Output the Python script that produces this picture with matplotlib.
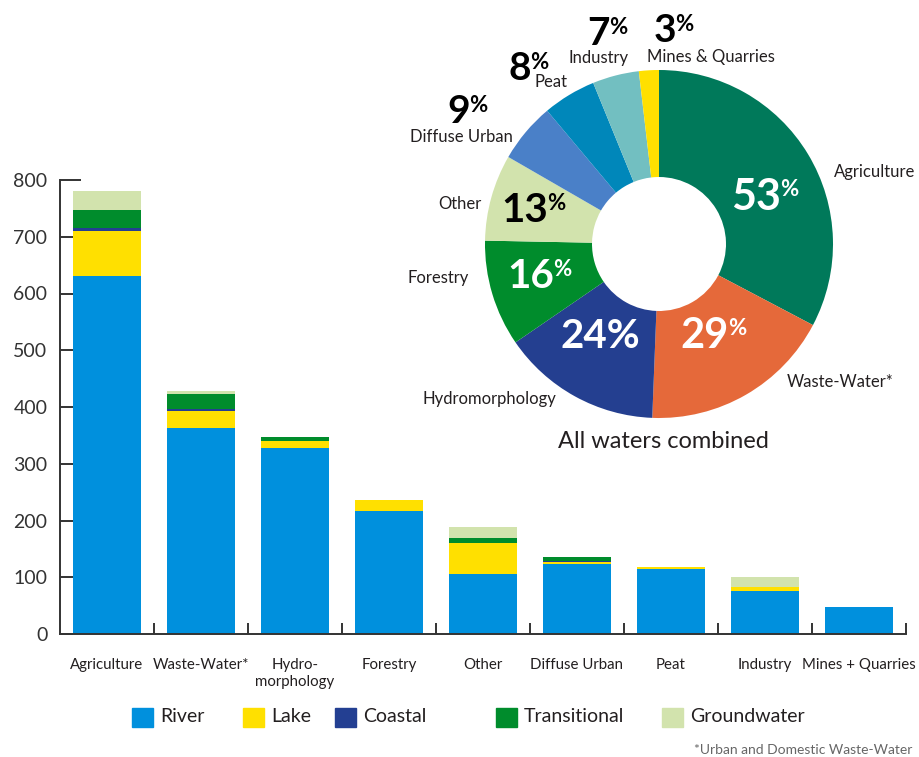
import matplotlib
matplotlib.use('Agg')
import matplotlib.pyplot as plt
from matplotlib.patches import Rectangle
import numpy as np

plt.rcParams['font.family'] = ['Lato', 'DejaVu Sans']

# Bar chart data (number of water bodies affected, by water category)
categories = ['Agriculture', 'Waste-Water*', 'Hydro-\nmorphology', 'Forestry', 'Other',
              'Diffuse Urban', 'Peat', 'Industry', 'Mines + Quarries']
river = [630, 363, 327, 216, 106, 124, 115, 76, 47]
lake = [80, 30, 13, 20, 54, 3, 3, 6, 0]
coastal = [5, 3, 0, 0, 0, 1, 0, 0, 0]
transitional = [33, 27, 7, 0, 9, 8, 0, 0, 0]
groundwater = [33, 6, 0, 0, 20, 0, 0, 18, 0]
series_names = ['River', 'Lake', 'Coastal', 'Transitional', 'Groundwater']
series_colors = ['#0090dd', '#ffe000', '#233f92', '#008c2c', '#d2e3ad']

# Donut data (all waters combined)
pie_labels = ['Agriculture', 'Waste-Water*', 'Hydromorphology', 'Forestry', 'Other',
              'Diffuse Urban', 'Peat', 'Industry', 'Mines & Quarries']
pie_pct = [53, 29, 24, 16, 13, 9, 8, 7, 3]
pie_colors = ['#00795a', '#e5693a', '#243f90', '#008c2c', '#d2e3ad',
              '#4a80c8', '#0087ba', '#72bfc1', '#ffe000']

TXT = '#231f20'
W, H = 920, 757

fig = plt.figure(figsize=(W / 100, H / 100), dpi=100)

# ---- stacked bars ----
ax = fig.add_axes([60 / W, 1 - 634 / H, 846 / W, (634 - 180) / H])
x = np.arange(len(categories))
bottom = np.zeros(len(categories))
for vals, name, col in zip([river, lake, coastal, transitional, groundwater],
                           series_names, series_colors):
    ax.bar(x, vals, width=0.72, bottom=bottom, color=col, linewidth=0, label=name)
    bottom += np.array(vals)

ax.set_xlim(-0.5, len(categories) - 0.5)
ax.set_ylim(0, 800)
for s in ['top', 'right']:
    ax.spines[s].set_visible(False)
for s in ['left', 'bottom']:
    ax.spines[s].set_color('#333333')
    ax.spines[s].set_linewidth(1.4)

ax.set_yticks(range(0, 800, 100))
ax.set_yticks([800], labels=['800'], minor=True)
ax.tick_params(axis='y', which='major', direction='in', length=9, width=1.4,
               color='#333333', labelsize=14, labelcolor='#333333', pad=9)
ax.tick_params(axis='y', which='minor', direction='in', length=15, width=1.4,
               color='#333333', labelsize=14, labelcolor='#333333', pad=9)

ax.set_xticks(x + 0.5, labels=[''] * len(categories))
ax.set_xticks(x, labels=categories, minor=True)
ax.tick_params(axis='x', which='major', direction='in', length=8, width=1.4, color='#333333')
ax.tick_params(axis='x', which='minor', length=0, pad=17, labelsize=10.8, labelcolor=TXT)
for t in ax.get_xticklabels(minor=True):
    t.set_linespacing(1.3)
    t.set_va('top')

# legend row
leg_x = [132, 243, 335, 496, 662]
for lx, name, col in zip(leg_x, series_names, series_colors):
    fig.patches.append(Rectangle((lx / W, 1 - 727 / H), 21 / W, 19 / H,
                                 transform=fig.transFigure, color=col))
    fig.text((lx + 28) / W, 1 - 717 / H, name, fontsize=14, color=TXT,
             ha='left', va='center')

fig.text(912 / W, 1 - 750 / H, '*Urban and Domestic Waste-Water', fontsize=10,
         color='#666666', ha='right', va='center')

# ---- donut ----
cx, cy, R = 659, 244, 174
pax = fig.add_axes([400 / W, 1 - 460 / H, 520 / W, 460 / H])
pax.pie(pie_pct, colors=pie_colors, startangle=90, counterclock=False,
        wedgeprops=dict(width=0.615, linewidth=0))
pax.set_xlim((400 - cx) / R, (920 - cx) / R)
pax.set_ylim(-(460 - cy) / R, cy / R)
pax.set_axis_off()


def P(px, py):
    return (px - cx) / R, (cy - py) / R


# category names around the donut (pixel position of text centre)
name_pos = {
    'Agriculture': (875, 172), 'Waste-Water*': (840, 382), 'Hydromorphology': (489, 399),
    'Forestry': (438, 278), 'Other': (460, 204), 'Diffuse Urban': (461, 137),
    'Peat': (551, 82), 'Industry': (599, 58), 'Mines & Quarries': (711, 57),
}
for lab in pie_labels:
    pax.text(*P(*name_pos[lab]), lab, fontsize=12, color=TXT, ha='center', va='center')

# percentages: (junction x, baseline y, number size, colour)
pct_pos = [(781, 210, 31, 'white'), (729, 348, 30, 'white'), (600, 348, 29, 'white'),
           (554, 288, 29, 'white'), (548, 222, 29, 'black'), (470, 123, 28, 'black'),
           (531, 80, 28, 'black'), (610, 45, 28, 'black'), (676, 42, 28, 'black')]
for lab, v, (jx, by, fs, col) in zip(pie_labels, pie_pct, pct_pos):
    if lab == 'Hydromorphology':
        pax.text(*P(jx, by), f'{v}%', fontsize=fs, fontweight='bold', color=col,
                 ha='center', va='baseline')
        continue
    pax.text(*P(jx, by), str(v), fontsize=fs, fontweight='bold', color=col,
             ha='right', va='baseline')
    ps = 16
    pax.text(*P(jx - 1, by - (fs - ps) * 0.95), '%', fontsize=ps, fontweight='bold',
             color=col, ha='left', va='baseline')

pax.text(*P(663, 441), 'All waters combined', fontsize=17, color=TXT,
         ha='center', va='center')

fig.savefig('out.png', dpi=100)
plt.close('all')
